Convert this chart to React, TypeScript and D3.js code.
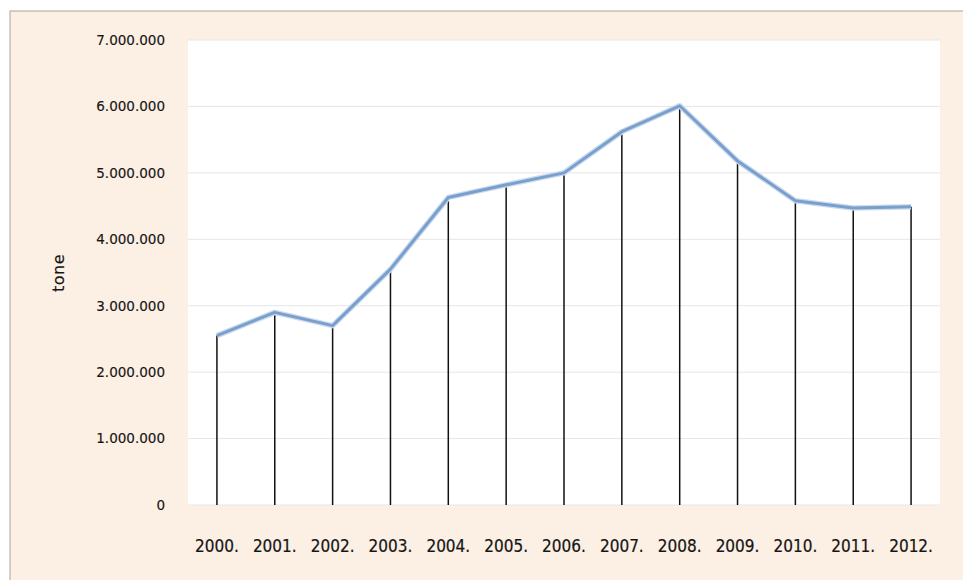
import React from "react";
import * as d3 from "d3";

const years = ["2000.", "2001.", "2002.", "2003.", "2004.", "2005.", "2006.", "2007.", "2008.", "2009.", "2010.", "2011.", "2012."];
const values = [2550000, 2900000, 2700000, 3550000, 4630000, 4820000, 5000000, 5620000, 6010000, 5180000, 4580000, 4470000, 4490000];
const yTicks = [0, 1000000, 2000000, 3000000, 4000000, 5000000, 6000000, 7000000];
const yTitle = "tone";

const W = 963;
const H = 580;
const plot = { left: 188, right: 940, top: 40, bottom: 505 };

const fmt = (v: number) => (v === 0 ? "0" : d3.format(",")(v).replace(/,/g, "."));

export default function App() {
  const x = d3.scaleBand<string>().domain(years).range([plot.left, plot.right]).padding(0);
  const y = d3.scaleLinear().domain([0, 7000000]).range([plot.bottom, plot.top]);
  const cx = (d: string) => (x(d) as number) + x.bandwidth() / 2;
  const line = d3
    .line<number>()
    .x((_, i) => cx(years[i]))
    .y((d) => y(d));

  return (
    <svg
      width={W}
      height={H}
      style={{ position: "absolute", left: 0, top: 0, background: "#ffffff" }}
      fontFamily="'DejaVu Sans', Verdana, sans-serif"
    >
      <rect x={10} y={11} width={W} height={H} fill="#fcefe4" stroke="#b8b2ac" strokeWidth={1.2} />
      <rect x={plot.left} y={plot.top} width={plot.right - plot.left} height={plot.bottom - plot.top} fill="#ffffff" />
      {yTicks.map((t) => (
        <g key={t}>
          <line x1={plot.left} x2={plot.right} y1={y(t)} y2={y(t)} stroke="#e6e6e6" strokeWidth={1} />
          <text
            x={165}
            y={y(t)}
            dy="0.36em"
            textAnchor="end"
            fontSize={13.5}
            fill="#151515"
            stroke="#151515"
            strokeWidth={0.15}
          >
            {fmt(t)}
          </text>
        </g>
      ))}
      {values.map((v, i) => (
        <line
          key={years[i]}
          x1={cx(years[i])}
          x2={cx(years[i])}
          y1={y(v)}
          y2={y(0)}
          stroke="#111111"
          strokeWidth={1.5}
        />
      ))}
      <path d={line(values) || ""} fill="none" stroke="#c9dbef" strokeWidth={5.5} strokeLinejoin="round" />
      <path d={line(values) || ""} fill="none" stroke="#7a9fcc" strokeWidth={3} strokeLinejoin="round" />
      {years.map((yr) => (
        <text
          key={yr}
          x={cx(yr)}
          y={546}
          dy="0.36em"
          textAnchor="middle"
          fontFamily="'DejaVu Sans Condensed', 'DejaVu Sans', sans-serif"
          fontSize={17}
          fill="#151515"
          stroke="#151515"
          strokeWidth={0.2}
        >
          {yr}
        </text>
      ))}
      <text
        transform={`translate(58,273) rotate(-90)`}
        textAnchor="middle"
        dy="0.36em"
        fontSize={16}
        letterSpacing={0.5}
        fill="#151515"
        stroke="#151515"
        strokeWidth={0.15}
      >
        {yTitle}
      </text>
    </svg>
  );
}
